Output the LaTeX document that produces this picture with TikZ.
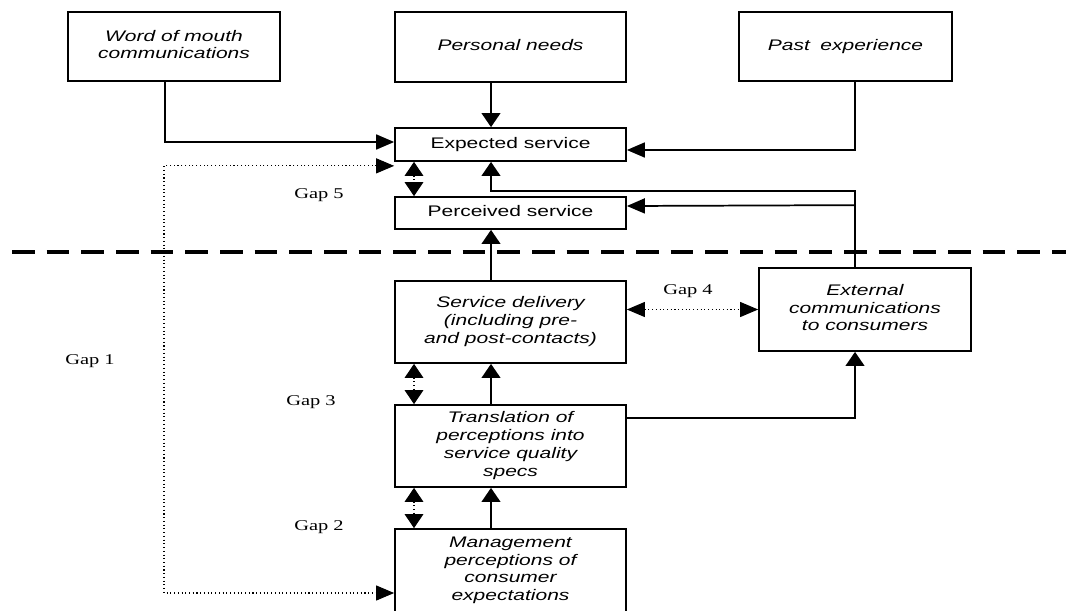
\documentclass[tikz,border=0pt]{standalone}
\usepackage{fontspec}
\setmainfont{Liberation Serif}
\setsansfont{Liberation Sans}
\usepackage{graphicx}
\usetikzlibrary{calc,arrows.meta}
\usetikzlibrary{positioning}

\newcommand{\wide}[1]{\scalebox{1.37}[1]{\begin{tabular}{@{}c@{}}#1\end{tabular}}}

\begin{document}
\begin{tikzpicture}[x=0.75pt, y=-0.75pt,
  tipv/.tip={Triangle[length=10.5pt, width=14pt]},
  tiph/.tip={Triangle[length=13.5pt, width=11.25pt]},
  box/.style={draw=black, line width=1.3pt, inner sep=0pt, minimum width=173.25pt,
    font=\sffamily\fontsize{11.5}{13.3}\selectfont\itshape},
  plain/.style={box, font=\sffamily\fontsize{11.5}{13.3}\selectfont},
  gap/.style={inner sep=0pt, font=\rmfamily\fontsize{11.2}{13}\selectfont},
  arr/.style={draw=black, line width=1.3pt, -tipv},
  harr/.style={draw=black, line width=1.3pt, -tiph},
  gaparr/.style={draw=black, line width=0.8pt, dotted, tipv-tipv},
  hgaparr/.style={draw=black, line width=0.8pt, dotted, tiph-tiph},
  divider/.style={draw=black, line width=3pt, dash pattern=on 17pt off 9pt}
]
\useasboundingbox (0,0) rectangle (1066,610);

% ---- Boxes ----
\node[box, minimum width=159pt, minimum height=51.75pt]    (WM) at (174,46.5)  {\wide{Word of mouth\\communications}};
\node[box, minimum height=52.5pt]                         (PN) at (510.5,47)  {\wide{Personal needs}};
\node[box, minimum width=159.75pt, minimum height=51.75pt] (PE) at (845.5,46.5) {\wide{Past\enspace experience}};
\node[plain, minimum height=24.75pt] (ES) at (510.5,144.5) {\wide{Expected service}};
\node[plain, minimum height=24pt]    (PS) at (510.5,213)   {\wide{Perceived service}};
\node[box, minimum height=61.5pt]   (SD) at (510.5,322)   {\wide{Service delivery\\(including pre-\\and post-contacts)}};
\node[box, minimum width=159pt, minimum height=62.25pt] (EC) at (865,309.5) {\wide{External\\communications\\to consumers}};
\node[box, minimum height=61.5pt]   (TR) at (510.5,446)   {\wide{Translation of\\perceptions into\\service quality\\specs}};
\node[box, minimum height=62.25pt]  (MP) at (510.5,570.5) {\wide{Management\\perceptions of\\consumer\\expectations}};

% ---- Gap labels ----
\node[gap] (G5) at (319,195) {\wide{Gap 5}};
\node[gap] (G4) at (688,291) {\wide{Gap 4}};
\node[gap] (G1) at (90,361)  {\wide{Gap 1}};
\node[gap] (G3) at (311,402) {\wide{Gap 3}};
\node[gap] (G2) at (319,527) {\wide{Gap 2}};

% ---- Columns ----
\coordinate (lx)  at (165,0);   % word of mouth line
\coordinate (mid) at (491,0);   % centre arrows
\coordinate (gx)  at (414,0);   % gap arrows
\coordinate (rx)  at (855,0);   % right line
\coordinate (dx)  at (164,593); % gap 1 corner
\coordinate (L)   at (12,252);
\coordinate (R)   at (1066,252);

% ---- Connectors ----
\draw[divider] (L) -- (R);
\draw[harr] (WM.south -| lx) |- ($(ES.west)+(0,-2.5)$);
\draw[arr] (PN.south -| mid) -- (ES.north -| mid);
\draw[harr] (PE.south -| rx) |- ($(ES.east)+(0,5.5)$);
\draw[arr] (EC.north -| rx) -- ++(0,-76) -| (ES.south -| mid);
\draw[harr] ($(EC.north -| rx)+(0,-62)$) -- ($(PS.east)+(0,-7)$);
\draw[arr] (SD.north -| mid) -- (PS.south -| mid);
\draw[arr] (TR.north -| mid) -- (SD.south -| mid);
\draw[arr] (MP.north -| mid) -- (TR.south -| mid);
\draw[arr] ($(TR.east)+(0,-28)$) -| (EC.south -| rx);
\draw[gaparr] (ES.south -| gx) -- (PS.north -| gx);
\draw[gaparr] (SD.south -| gx) -- (TR.north -| gx);
\draw[gaparr] (TR.south -| gx) -- (MP.north -| gx);
\draw[hgaparr] (SD.east |- EC.west) -- (EC.west);
\draw[hgaparr] ($(ES.south west)+(0,4)$) -| (dx) -- ($(MP.west)+(0,22.5)$);
\end{tikzpicture}
\end{document}
